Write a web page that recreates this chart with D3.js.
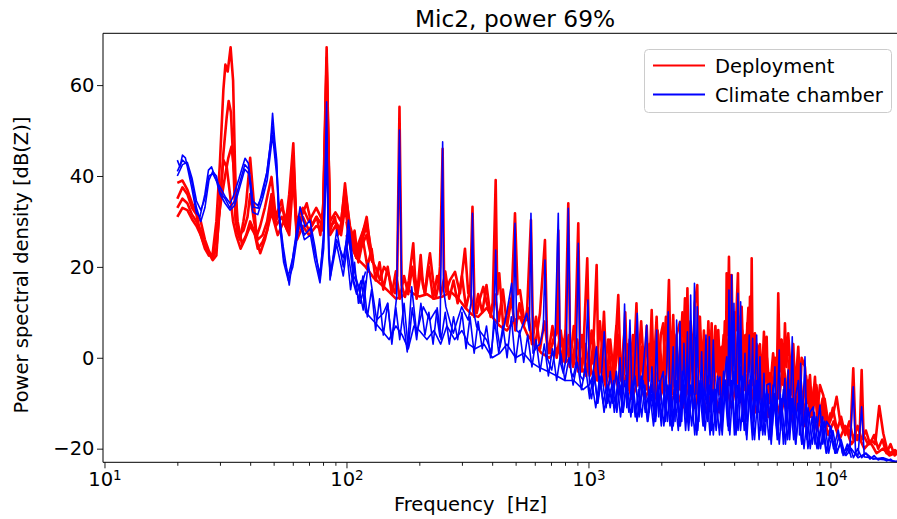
<!DOCTYPE html>
<html><head><meta charset="utf-8">
<script src="https://cdn.jsdelivr.net/npm/d3@7"></script>
<style>
body{margin:0;background:#fff}
text{font-family:"DejaVu Sans",sans-serif}
</style>
</head><body>
<svg id="chart" width="897" height="519"></svg>
<script>
// ---------------- data ----------------
const chartTitle = "Mic2, power 69%";
const xLabel = "Frequency  [Hz]";
const yLabel = "Power spectral density [dB(Z)]";
const seriesNames = ["Deployment", "Climate chamber"];
const seriesColors = ["#ff0000", "#0000ff"];
const yTicks = [-20, 0, 20, 40, 60];
const xMajorTicks = [10, 100, 1000, 10000];
const xMinorTicks = [20,30,40,50,60,70,80,90,200,300,400,500,600,700,800,900,
  2000,3000,4000,5000,6000,7000,8000,9000,20000];

// Deployment (red) — [frequency Hz, dB]
const deploymentMain = [[20,35],[21,37.5],[22,36],[23,33],[24,31.5],[25,27],[26,24],[27,22.5],[28,23],[29,30],[30,43],[31,59],[31.6,64.5],[32.3,63],[33.2,68.3],[34,61],[34.6,43],[35.3,28],[36.3,26],[37.5,30],[38.5,34],[40,44],[41,37],[42.5,26.6],[44,29],[46,33],[49,39.8],[51,31],[54,34.7],[56,29],[58,36],[60.3,47.2],[62.2,28],[65,31],[68.5,34],[72,29],[75.4,31],[78,27],[80.2,34],[82.8,68.3],[85.5,28],[89.6,31],[92,27],[95.1,29.6],[98.6,38.4],[103.4,28],[110.2,23],[115,26],[121.2,31],[127.1,21.5],[133,19.5],[137.5,17.1],[143,20],[148.9,18.6],[153,16],[158.6,14.2],[162,18],[165.6,55.2],[169,16],[174.5,13.4],[181,17],[188.8,25.2],[192,18],[196.1,14.2],[202.6,22.6],[207,16],[211.1,14.2],[216,19],[221.3,23],[228,17],[234.4,13.4],[240,16],[243.4,20],[249.7,46],[253,18],[257.6,14.5],[267.7,17.1],[280.8,18.9],[294.4,14.2],[308.8,24],[318.6,14.2],[325,16],[331.7,33.2],[338,12],[345.1,9.8],[356,13],[367.6,15.6],[380,12],[391.7,9.8],[402,12],[413.6,39.1],[420,14],[427.9,18.6],[444.6,6.8],[455,9],[470,11],[481.6,13.4],[497,31.8],[510,14],[521.2,14.9],[540,9],[555.5,8.3],[578.6,30.3],[590,5],[601.1,2.4],[615,6],[630.3,9.8],[661,25.9],[675,3],[693.4,1],[715,4],[739,5.4],[750.3,28],[760,2],[787.1,4],[800,0],[825.3,34],[840,1],[865.5,0],[880,3],[907.6,29.6],[925,-1],[950,0],[988.6,21.9],[1010,-2],[1040,-1],[1081,20.4],[1100,-4],[1130,-2],[1159,10.1],[1190,-5],[1227,-2],[1260,-6],[1290,2],[1328,13.8],[1360,-4],[1390,0],[1419,10],[1450,-5],[1480,4],[1530,-6],[1579,12],[1610,-4],[1659,2.4],[1700,-6],[1740,7],[1780,-5],[1825,10.5],[1860,-3],[1913,9],[1950,-5],[1990,5],[2037,7.6],[2080,-6],[2151,17.1],[2190,-4],[2240,9.4],[2280,-5],[2314,5],[2388,7.9],[2440,-4],[2505,13.1],[2535,-2],[2564,15.3],[2600,-5],[2644,8],[2700,-3],[2750,12],[2816,16],[2850,-2],[2888,9],[2950,-4],[3000,6],[3060,-5],[3130,8],[3180,-4],[3229,7.6],[3280,-4],[3350,5],[3400,-3],[3439,6.1],[3495,-3],[3551,2.4],[3600,-5],[3660,8],[3700,0],[3724,18.6],[3760,5],[3807,22.2],[3850,3],[3906,18.2],[3950,2],[4000,10],[4060,6],[4147,18.6],[4200,0],[4296,11.2],[4370,-2],[4450,5],[4490,-3],[4532,7.6],[4600,-3],[4650,13.4],[4690,0],[4726,21.9],[4770,-2],[4875,5.4],[4955,-4],[5030,2],[5112,3],[5200,-6],[5311,5.7],[5380,-5],[5450,4.6],[5520,-8],[5623,-3.4],[5750,-7],[5896,0],[6000,-6],[6085,14.2],[6180,-3],[6285,3.9],[6380,-6],[6486,7.6],[6577,-2],[6692,5.4],[6801,-0.5],[6900,-8],[7019,3],[7150,-7],[7362,2.4],[7500,-8],[7600,0],[7847,-2],[8000,-10],[8229,-3.8],[8400,-12],[8630,-4.2],[8800,-13],[9051,-6],[9338,-8.2],[9645,-13.7],[9954,-14],[10300,-12],[10607,-8.6],[10946,-13.7],[11300,-16],[11668,-15.2],[12100,-17],[12425,-2.3],[12700,-17],[12905,-18.1],[13200,-17.5],[13457,-2.7],[13700,-17],[13888,-17.7],[14300,-19],[14803,-18.1],[15300,-19],[15910,-10.6],[16527,-16.6],[17100,-20],[17620,-21],[18475,-20.3],[19200,-21.5],[20000,-21]];

const deploymentLow1 = [[20,38.5],[21,39],[22,37],[23,34],[24,32],[25,30],[26,26],[27,23.5],[28,22],[29,24],[30,33],[31,45],[32,53],[32.6,56.5],[33.3,54],[34,44],[34.8,30],[36,27],[37.5,28],[39,31],[40,36],[41.5,30],[43,26],[45,27],[47,30],[49,36],[51,30],[54,33],[57,30],[60.3,44],[62,30],[66,33],[70,30],[75,33],[80,30],[82.8,66],[85.5,30],[90,32],[95,30],[98.6,37],[103.4,29],[110,24],[121,30],[128,22]];

const deploymentLow2 = [[20,33],[21,35],[22,34],[23,31.5],[24,30],[25,28],[26,25],[27,23],[28,22.5],[29,27],[30,33],[31.5,40],[32.5,44],[33.5,46.5],[34.5,40],[35.5,30],[37,25],[38.5,27],[40,30],[41.5,28],[43,24],[45,25.5],[47,28],[49,34],[51,29],[54,31],[57,28],[60.3,42],[62.2,27],[66,31],[70,28],[75,31],[80,29],[82.8,64],[85.5,29],[90,30],[95,28],[98.6,35],[103.4,27],[110,22],[121,29],[128,21]];

const deploymentLow3 = [[20,31],[21,33],[22,32.5],[23,30.5],[24,29],[25,27],[26,24.5],[27,23],[28,21.5],[29,22.5],[30,35],[31,43.5],[32,42],[33,36],[34,30],[35,27],[36.5,24],[38,26],[40,29],[42,27],[44,23],[46,26],[49,32],[52,27],[55,30],[58,27],[60.3,40],[62.5,26],[66,29],[70,27],[75,29],[80,28],[82.8,60],[85.5,27],[90,29],[95,27],[98.6,33],[103.4,26],[110,22],[121,27],[128,21]];

const deploymentFloor = [[100,27],[110,22],[120,20],[130,17.5],[140,16],[150,14.5],[160,13],[170,13.5],[180,15],[190,14],[200,13.5],[215,14],[230,13],[250,13.5],[270,14.5],[290,13],[310,11],[330,9.5],[350,9],[380,11],[400,9],[430,7],[460,6],[490,8],[520,9],[560,5],[600,3],[640,1],[690,0],[740,2],[800,-1],[850,0],[900,-2],[950,-3],[1000,-1],[1060,-5],[1120,-2],[1190,-7],[1270,-3],[1350,-8],[1430,-4],[1510,-9],[1610,-5],[1710,-9],[1820,-6],[1940,-10],[2060,-6],[2180,-10],[2310,-7],[2450,-11],[2590,-6],[2750,-11],[2910,-7],[3090,-12],[3270,-6],[3470,-12],[3680,-5],[3900,-11],[4130,-4],[4380,-12],[4640,-5],[4920,-12],[5220,-7],[5530,-13],[5860,-8],[6210,-13],[6580,-7],[6980,-14],[7390,-8],[7840,-15],[8300,-10],[8800,-16],[9300,-12],[9800,-17],[10300,-14],[10900,-18],[11500,-15],[12200,-19],[13000,-17],[13800,-20],[14600,-18.5],[15500,-21],[16500,-20],[17500,-21.5],[18500,-21],[20000,-22]];

const deploymentDense = [[100,30],[104,24],[108,28],[112,21],[117,26],[122,20],[127,24],[132,17],[137,21],[142,15],[148,20],[154,14],[160,19],[166,13],[173,18],[180,14],[187,20],[195,13],[203,19],[211,14],[219,20],[228,13],[237,18],[246,14],[256,19],[266,13],[277,17],[288,12],[300,18],[312,11],[324,15],[337,9],[350,14],[364,10],[379,16],[394,9],[410,14],[426,8],[443,15],[461,7],[480,13],[499,6],[519,12],[540,7],[561,11],[584,3],[607,9],[631,2],[657,8],[683,1],[710,7],[739,0],[768,6],[799,-1],[831,5],[864,-2],[899,4],[935,-3],[972,3],[1011,-4],[1051,4],[1093,-5],[1137,3],[1183,-6],[1230,4],[1279,-5],[1330,5],[1384,-6],[1439,3],[1497,-7],[1557,5],[1619,-6],[1684,2],[1751,-7],[1821,4],[1894,-8],[1970,3],[2049,-7],[2131,6],[2216,-8],[2305,4],[2397,-7],[2493,6],[2593,-8],[2696,5],[2804,-9],[2916,4],[3033,-8],[3154,6],[3281,-9],[3412,3],[3548,-8],[3690,7],[3838,-6],[3991,9],[4151,-5],[4317,6],[4490,-8],[4669,5],[4856,-9],[5050,2],[5252,-10],[5462,0],[5681,-10],[5908,-2],[6144,-9],[6390,0],[6646,-11],[6912,-2],[7188,-12],[7476,-3],[7775,-13],[8086,-5],[8409,-13],[8746,-6],[9095,-14],[9459,-9],[9837,-15],[10231,-11],[10640,-16],[11066,-13],[11508,-17],[11969,-14],[12447,-18],[12945,-15],[13463,-18],[14002,-16],[14562,-19],[15144,-17],[15750,-20],[16380,-18],[17035,-21],[17717,-19],[18425,-21.5],[19162,-20],[19929,-21.5]];

const deploymentDense2 = [[715,3],[744,8],[774,-1],[805,6],[837,-2],[870,7],[905,-3],[941,5],[979,-4],[1031,6],[1072,-5],[1115,8],[1160,-4],[1206,4],[1254,-6],[1304,7],[1357,-5],[1411,6],[1468,-7],[1527,5],[1588,-6],[1651,8],[1717,-7],[1786,3],[1857,-8],[1932,6],[2009,-7],[2090,9],[2173,-8],[2260,5],[2351,-6],[2445,10],[2543,-7],[2644,6],[2750,-8],[2860,9],[2974,-7],[3093,4],[3217,-9],[3346,7],[3480,-8],[3619,5],[3764,-6],[3914,10],[4071,-5],[4234,8],[4403,-7],[4579,11],[4762,-6],[4953,3],[5151,-9],[5357,2],[5571,-10],[5794,1],[6026,-9],[6267,4],[6518,-10],[6778,0],[7049,-11],[7331,-2],[7625,-12],[7930,-4],[8247,-13],[8577,-6],[8920,-14],[9277,-9],[9648,-15],[10034,-12]];

// Climate chamber (blue) — [frequency Hz, dB]
const climateMain = [[20,43.5],[20.5,42],[21,44.6],[21.6,44],[22.9,37.6],[24,31.8],[24.8,31],[26,36],[26.9,41.3],[27.7,42],[29,39],[30,37.6],[31.5,35.5],[33,34],[34,35.4],[36,39.5],[38.1,43.9],[39.3,42.8],[41.2,33.2],[43.2,32.9],[45,37],[46.8,40.6],[48.5,47],[49.5,53.8],[50.5,48],[51.5,43.5],[52.2,33.2],[54.8,24.4],[58,16],[60.3,23],[64.3,33.2],[67.4,28.8],[70.6,30.3],[74.1,24.4],[77.7,17.1],[80.5,28],[82.8,56.3],[84,30],[85.5,17.1],[91.1,28.1],[97,20],[101.9,30.3],[106.8,20],[113.7,14.2],[117.3,10.5],[123,20.8],[133.3,8.3],[141.9,9.8],[148,12],[153.8,3.9],[161.2,13.4],[165.6,50.1],[169,15],[171.7,8.3],[178.3,1.3],[186,15.6],[195,5.4],[207.7,11.2],[221.3,8.3],[234.4,10.5],[243.4,4.6],[249.7,47.5],[252,15],[257.6,11.2],[276.3,5.4],[299.2,11.2],[318.6,8.3],[327,12],[331.7,31.8],[336,10],[345.1,6.8],[379.6,3.9],[398.1,1],[406,8],[413.6,23.7],[420,6],[430.8,2.4],[459.2,9.8],[481.6,16.4],[490,8],[497,29.6],[505,6],[521.2,5.4],[555.5,9.8],[570,6],[578.6,31.8],[590,1],[610.9,2.4],[630,3],[650.4,6.1],[661,21.5],[675,0],[704.7,-2.7],[725,1],[750.3,31.8],[765,-1],[787.1,-3.4],[810,0],[825.3,32.9],[845,-3],[865.5,-4.2],[890,-1],[907.6,25.2],[925,-4],[951.7,-4.9],[970,-2],[995,12.7],[1010,-6],[1040,-4],[1079,2.4],[1110,-7],[1135,-3],[1162,5.7],[1200,-10],[1250,-6],[1300,-11],[1350,0],[1380,-10],[1410,11.8],[1440,-11],[1484,8.3],[1520,-12],[1545,-4],[1590,9.8],[1630,-12],[1680,-3],[1740,7.2],[1780,-12],[1830,-2],[1870,-13],[1913,6.1],[1950,-13],[1990,-5],[2037,-3],[2080,-14],[2137,10.1],[2180,-13],[2240,2.4],[2280,-14],[2314,8.3],[2350,-12],[2388,7.9],[2430,-14],[2481,3.2],[2520,-12],[2564,5.7],[2600,-14],[2644,13.8],[2690,-10],[2742,16.4],[2780,-8],[2816,11.2],[2860,-14],[2936,1.3],[2990,-13],[3059,5],[3110,-14],[3157,4.6],[3210,-12],[3280,3.9],[3350,-15],[3420,-5],[3495,-4.2],[3550,-14],[3620,-6],[3724,0.2],[3770,-12],[3807,14.9],[3850,-10],[3906,18.2],[3950,-8],[3992,12],[4060,-12],[4147,14.2],[4200,-10],[4255,12.3],[4320,-14],[4380,-6],[4434,1],[4480,-14],[4560,-4],[4619,5],[4680,-12],[4771,4.3],[4820,-14],[4955,5],[5030,-12],[5112,0.2],[5200,-15],[5311,-3.4],[5380,-14],[5450,-6],[5623,-5.6],[5700,-16],[5896,-2],[5990,-15],[6143,1.7],[6220,-16],[6486,-4.5],[6560,-15],[6692,-2.7],[6800,-16],[6952,4.6],[7100,-17],[7200,-8],[7362,-5],[7450,-17],[7532,-1.2],[7650,-15],[7847,0.2],[8000,-18],[8229,-12],[8492,-10.8],[8630,-19],[9051,-10.4],[9300,-19],[9645,-14],[9954,-15.2],[10300,-20],[10770,-15.9],[11200,-21],[11668,-20],[12000,-21],[12425,-6.4],[12700,-21],[13000,-21.5],[13457,-10.8],[13800,-21.8],[14803,-22],[15910,-22.3],[17000,-22.5],[18475,-22.8],[20000,-23]];

const climateLow1 = [[20,41],[21,43.5],[22,42.5],[23,38.5],[24,33],[25,30],[26,33],[27,39],[28,41],[29,40],[30,36.5],[31.5,35],[33,33],[34.5,34.5],[36,38],[38,42.5],[39.5,41.5],[41,34.5],[43,33.5],[45,36],[47,41],[49.5,51],[51.5,42],[53,31],[55,22],[57.5,18],[60,22],[64,31],[67,27],[71,28.5],[74,23],[77.7,18.5],[80.5,26],[82.8,50],[84.5,24],[86,19],[91,26],[97,22],[102,28],[107,18],[114,15],[120,19]];

const climateLow2 = [[20,40],[21,42.5],[22,43],[23,39.5],[24,34.5],[25,32.5],[26,35],[27,40],[28,40.5],[29,39],[30,36],[31.5,34],[33,32.5],[34.5,33.5],[36,37],[38,41.5],[39.5,40.5],[41,32],[43,31.5],[45,35],[47,39],[49.5,49],[51.5,40],[53,29],[55,21],[57.5,17],[60,20],[64,30],[67,26],[71,27],[74,21.5],[77.7,16.5],[80.5,24],[82.8,45],[84.5,22],[86,18],[91,25],[97,18],[102,27],[107,17],[114,12],[120,17]];

const climateFloor = [[100,25],[105,18],[110,14],[115,17],[120,10],[130,8],[140,6],[150,4],[160,7],[170,5],[180,2],[190,7],[200,6],[215,4],[230,6],[245,3],[260,7],[280,4],[300,6],[320,3],[340,2],[370,3],[400,0],[430,1],[460,3],[500,0],[540,1],[580,-1],[620,-2],[680,-3],[740,-4],[800,-5],[870,-5],[950,-7],[1000,-6],[1030,-9],[1060,-4],[1090,-10],[1120,-5],[1150,-10],[1190,-6],[1230,-11],[1270,-5],[1310,-12],[1350,-6],[1390,-12],[1430,-7],[1470,-12],[1510,-5],[1560,-13],[1610,-7],[1660,-13],[1710,-6],[1760,-14],[1820,-8],[1880,-14],[1940,-7],[2000,-15],[2060,-7],[2120,-14],[2180,-6],[2240,-15],[2310,-8],[2380,-15],[2450,-6],[2520,-16],[2590,-7],[2670,-15],[2750,-8],[2830,-16],[2910,-6],[3000,-15],[3090,-8],[3180,-17],[3270,-7],[3370,-16],[3470,-9],[3570,-17],[3680,-6],[3790,-16],[3900,-5],[4010,-17],[4130,-6],[4250,-16],[4380,-8],[4510,-18],[4640,-7],[4780,-17],[4920,-6],[5070,-18],[5220,-9],[5370,-17],[5530,-8],[5690,-19],[5860,-9],[6030,-18],[6210,-8],[6390,-19],[6580,-10],[6780,-18],[6980,-9],[7180,-19],[7390,-11],[7610,-19],[7840,-12],[8070,-20],[8400,-13],[8800,-20],[9200,-14],[9600,-21],[10000,-17],[10500,-21],[11000,-19],[11600,-21.5],[12200,-20],[13000,-22],[14000,-21],[15000,-22.3],[16500,-22],[18000,-22.7],[20000,-23]];

const climateDense = [[100,24],[104,15],[108,21],[112,12],[117,18],[122,9],[127,15],[132,6],[137,13],[142,5],[148,12],[154,3],[160,11],[166,4],[173,12],[180,2],[187,11],[195,4],[203,12],[211,5],[219,10],[228,3],[237,11],[246,4],[256,10],[266,3],[277,9],[288,4],[300,10],[312,2],[324,9],[337,1],[350,8],[364,2],[379,7],[394,0],[410,8],[426,1],[443,7],[461,0],[480,9],[499,-1],[519,6],[540,-1],[561,5],[584,-2],[607,4],[631,-3],[657,3],[683,-4],[710,2],[739,-5],[768,1],[799,-5],[831,0],[864,-6],[899,-1],[935,-7],[972,-2],[1011,-9],[1051,-3],[1093,-10],[1137,-4],[1183,-11],[1230,-3],[1279,-12],[1330,-4],[1384,-12],[1439,-5],[1497,-13],[1557,-4],[1619,-13],[1684,-5],[1751,-14],[1821,-6],[1894,-14],[1970,-5],[2049,-15],[2131,-6],[2216,-16],[2305,-5],[2397,-15],[2493,-6],[2593,-16],[2696,-4],[2804,-17],[2916,-5],[3033,-16],[3154,-6],[3281,-17],[3412,-4],[3548,-16],[3690,-5],[3838,-17],[3991,-3],[4151,-16],[4317,-4],[4490,-17],[4669,-5],[4856,-18],[5050,-6],[5252,-17],[5462,-7],[5681,-18],[5908,-8],[6144,-19],[6390,-7],[6646,-18],[6912,-9],[7188,-19],[7476,-10],[7775,-20],[8086,-11],[8409,-19],[8746,-13],[9095,-20],[9459,-14],[9837,-21],[10231,-16],[10640,-21],[11066,-18],[11508,-21.5],[11969,-19],[12447,-22],[12945,-20],[13463,-22],[14002,-21],[14562,-22.3],[15144,-21.5],[15750,-22.5],[16380,-22],[17035,-22.7],[17717,-22.3],[18425,-23],[19162,-22.6],[19929,-23]];

const climateDense2 = [[1031,-5],[1072,-11],[1115,-4],[1160,-12],[1206,-6],[1254,-10],[1304,-3],[1357,-13],[1411,-5],[1468,-11],[1527,-6],[1588,-14],[1651,-4],[1717,-12],[1786,-7],[1857,-15],[1932,-6],[2009,-13],[2090,-4],[2173,-15],[2260,-7],[2351,-16],[2445,-3],[2543,-14],[2644,-6],[2750,-17],[2860,-5],[2974,-15],[3093,-4],[3217,-16],[3346,-7],[3480,-17],[3619,-3],[3764,-15],[3914,-6],[4071,-17],[4234,-2],[4403,-16],[4579,-6],[4762,-18],[4953,-5],[5151,-16],[5357,-8],[5571,-18],[5794,-6],[6026,-17],[6267,-9],[6518,-19],[6778,-7],[7049,-18],[7331,-10],[7625,-19],[7930,-9],[8247,-20],[8577,-12],[8920,-20],[9277,-13],[9648,-21],[10034,-15],[10435,-21],[10852,-17],[11286,-21.5],[11738,-19],[12200,-22]];

const deploymentLines = [deploymentLow1, deploymentLow2, deploymentLow3, deploymentFloor, deploymentDense, deploymentDense2, deploymentMain];
const climateLines = [climateLow1, climateLow2, climateFloor, climateDense, climateDense2, climateMain];

// ---------------- chart ----------------
const svg = d3.select("#chart");
const plot = {left: 103, right: 903.3, top: 33.3, bottom: 462.3};
const x = d3.scaleLog().domain([9.86, 20000]).range([plot.left, plot.right]);
const y = d3.scaleLinear().domain([-23, 71.4]).range([plot.bottom, plot.top]);

svg.append("defs").append("clipPath").attr("id", "clip")
  .append("rect").attr("x", plot.left).attr("y", plot.top)
  .attr("width", plot.right - plot.left).attr("height", plot.bottom - plot.top);

const line = d3.line().x(d => x(d[0])).y(d => y(d[1]));
const g = svg.append("g").attr("clip-path", "url(#clip)");
g.selectAll("path.dep").data(deploymentLines).join("path").attr("class", "dep")
  .attr("d", line).attr("fill", "none").attr("stroke", seriesColors[0])
  .attr("stroke-width", 2.6).attr("stroke-linejoin", "round");
g.selectAll("path.cli").data(climateLines).join("path").attr("class", "cli")
  .attr("d", line).attr("fill", "none").attr("stroke", seriesColors[1])
  .attr("stroke-width", 1.6).attr("stroke-linejoin", "round");

// axes
const fs = "19.5px";
const yAxis = svg.append("g").attr("transform", `translate(${plot.left},0)`)
  .call(d3.axisLeft(y).tickValues(yTicks).tickSize(6).tickPadding(2.5));
yAxis.select(".domain").remove();
yAxis.selectAll("text").attr("font-size", fs).attr("fill", "#000").attr("font-family", "DejaVu Sans");

const xAxis = svg.append("g").attr("transform", `translate(0,${plot.bottom})`)
  .call(d3.axisBottom(x).tickValues(xMajorTicks).tickSize(6).tickPadding(3.5).tickFormat(() => ""));
xAxis.select(".domain").remove();
xAxis.selectAll("text").attr("font-size", fs).attr("fill", "#000").attr("font-family", "DejaVu Sans")
  .each(function(d) {
    const t = d3.select(this);
    t.text("10");
    t.append("tspan").attr("dy", "-0.42em").attr("font-size", "13.5px").text(String(Math.round(Math.log10(d))));
  });
const xMinor = svg.append("g").attr("transform", `translate(0,${plot.bottom})`)
  .call(d3.axisBottom(x).tickValues(xMinorTicks.filter(v => x(v) <= plot.right)).tickSize(3.5).tickFormat(() => ""));
xMinor.select(".domain").remove();
svg.selectAll(".tick line").attr("stroke", "#000").attr("stroke-width", 0.9);

// spines
const sp = svg.append("g").attr("stroke", "#000").attr("stroke-width", 1);
sp.append("line").attr("x1", plot.left).attr("x2", plot.left).attr("y1", plot.top).attr("y2", plot.bottom);
sp.append("line").attr("x1", plot.left).attr("x2", plot.right).attr("y1", plot.bottom).attr("y2", plot.bottom);
sp.append("line").attr("x1", plot.left).attr("x2", plot.right).attr("y1", plot.top).attr("y2", plot.top);
sp.append("line").attr("x1", plot.right).attr("x2", plot.right).attr("y1", plot.top).attr("y2", plot.bottom);

// labels
svg.append("text").attr("x", 515).attr("y", 26.7).attr("text-anchor", "middle")
  .attr("font-size", "23.3px").text(chartTitle);
svg.append("text").attr("x", 470.5).attr("y", 511).attr("text-anchor", "middle")
  .attr("font-size", fs).style("white-space", "pre").text(xLabel);
svg.append("text").attr("transform", "translate(28,265) rotate(-90)").attr("text-anchor", "middle")
  .attr("font-size", fs).text(yLabel);

// legend
const lg = svg.append("g");
lg.append("rect").attr("x", 644.5).attr("y", 49.5).attr("width", 247).attr("height", 63).attr("rx", 4)
  .attr("fill", "#fff").attr("fill-opacity", 0.8).attr("stroke", "#cccccc");
seriesNames.forEach((name, i) => {
  const yy = 65.5 + i * 29;
  lg.append("line").attr("x1", 653).attr("x2", 705).attr("y1", yy).attr("y2", yy)
    .attr("stroke", seriesColors[i]).attr("stroke-width", 2);
  lg.append("text").attr("x", 715).attr("y", yy + 7).attr("font-size", fs).text(name);
});
</script>
</body></html>
